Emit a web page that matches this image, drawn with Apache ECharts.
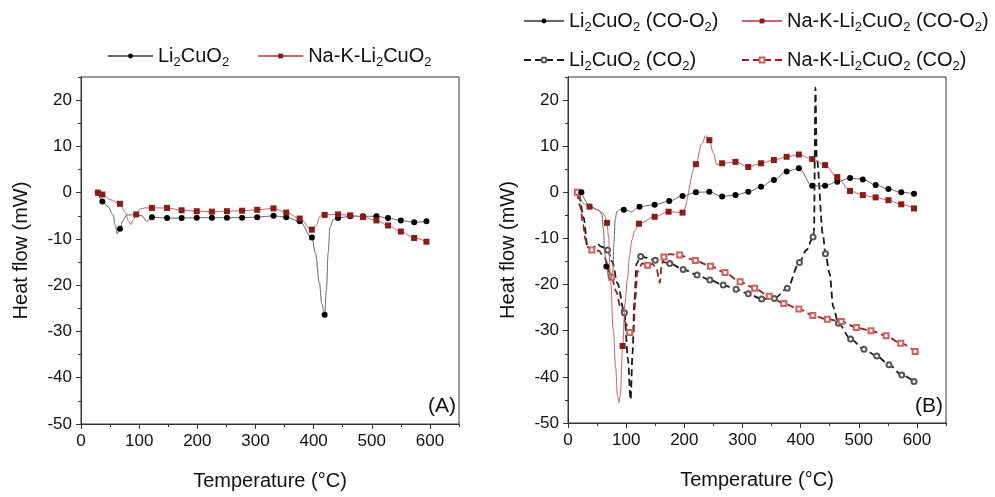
<!DOCTYPE html>
<html><head><meta charset="utf-8">
<script src="https://cdn.jsdelivr.net/npm/echarts@6/dist/echarts.min.js"></script>
<style>html,body{margin:0;padding:0;background:#fff}#c{width:995px;height:497px}</style>
</head><body><div id="c"></div>
<script>
// ---------- Panel A ----------
const aLiMarks = [[29,0],[36.7,-1.9],[67,-7.8],[122,-5.3],[148,-5.5],[173,-5.5],[199,-5.4],[225,-5.4],[251,-5.4],[277,-5.4],[303,-5.3],[331,-5.0],[353,-5.3],[376,-6.2],[397,-9.7],[419,-26.4],[442,-5.5],[463,-5.1],[485,-5.1],[508,-5.1],[528,-5.5],[550,-6.0],[573,-6.4],[594,-6.2]];
const aLiCurve = [[47,-3.1],[55,-4.8],[59,-7.0],[62,-8.9],[72,-6.0],[79,-4.8],[95,-4.8],[105,-5.0],[113,-6.2],[403,-13],[410,-19.5],[414,-24],[422,-21],[425,-13],[428,-7.5],[434,-5.8]];
const aNaMarks = [[29,0],[36.7,-0.4],[67,-2.4],[95,-4.7],[122,-3.3],[148,-3.3],[173,-3.8],[199,-4.0],[225,-4.1],[251,-4.0],[277,-3.9],[303,-3.7],[331,-3.4],[353,-4.3],[376,-5.6],[397,-8.0],[419,-4.8],[442,-4.7],[463,-4.9],[485,-5.3],[508,-6.0],[528,-7.1],[550,-8.4],[573,-9.8],[594,-10.6]];
const aNaCurve = [[50,-1.5],[76,-4.2],[82,-6.2],[86,-6.9],[90,-5.8],[102,-3.5],[110,-3.3],[405,-7.0],[410,-5.3],[414,-4.8]];

// ---------- Panel B ----------
const bLiOMarks = [[23,0],[66,-16.1],[96,-3.8],[123,-3.1],[149,-2.7],[174,-1.9],[197,-0.8],[220,0],[243,0.1],[265,-0.9],[288,-0.6],[310,0.1],[332,1.2],[354,2.7],[376,4.5],[397,5.2],[420,1.4],[442,1.4],[463,2.3],[485,3.1],[507,2.8],[529,1.6],[551,0.7],[573,0],[595,-0.3]];
const bLiOCurve = [[38,-3.0],[52,-3.8],[58,-4.6],[61,-8],[63,-13],[70,-18.6],[74,-18.9],[77,-17],[79,-11],[81,-6],[84,-4.2],[90,-3.7],[104,-4.0],[110,-4.3],[116,-3.6]];
const bNaOMarks = [[37,-3.1],[67,-6.6],[94,-33.3],[122,-6.8],[149,-5.3],[173,-4.2],[197,-4.4],[220,6.1],[243,11.3],[265,6.3],[288,6.6],[310,5.5],[332,6.3],[354,7.0],[376,7.7],[397,8.2],[420,7.2],[442,5.9],[463,3.3],[485,0.3],[507,-0.6],[529,-1.1],[551,-1.7],[573,-2.6],[595,-3.5]];
const bNaOCurve = [[17,0],[28,-2.5],[50,-3.8],[60,-4.5],[64,-5.3],[70,-10],[73,-19],[78,-30],[82,-38],[85,-44],[87.5,-45.6],[90,-44],[98,-24],[102,-19],[106,-13.5],[110,-10.3],[115,-8.2],[230,10.5],[237,12.3],[250,8.5],[256,6.0]];
const bLiCMarks = [[68,-12.5],[97,-26.1],[125,-13.9],[150,-14.7],[175,-15.4],[198,-16.7],[222,-17.9],[244,-19.0],[267,-20.1],[289,-21.0],[310,-22.0],[333,-23.1],[355,-23.0],[377,-20.8],[398,-15.2],[421.4,-9.7],[442.7,-13.3],[465,-28.4],[486,-31.8],[509,-34.0],[531,-35.5],[552,-37.4],[574,-39.6],[595,-41.0]];
const bLiCCurve = [[20,-0.5],[27,-5.5],[33,-11.5],[42,-12.3],[50,-11.2],[58,-11.8],[76,-15],[85,-19.7],[103,-36],[107.6,-44.9],[111,-35],[114,-24],[118,-15.4],[410,-12.5],[423,-8.5],[425.5,22.7],[427.7,7.5],[438.5,-9.3],[450,-17.6],[456,-24.8]];
const bNaCMarks = [[16,0],[41,-12.5],[75,-18.4],[106,-30.4],[137,-15.8],[165,-14.0],[192,-13.6],[219,-14.8],[245,-16.0],[270,-17.4],[296,-19.4],[321,-20.8],[346,-22.5],[371,-24.1],[397,-25.3],[421,-26.7],[446,-27.5],[470,-28.0],[496,-29.3],[521,-30.0],[547,-31.1],[572,-32.7],[597,-34.5]];
const bNaCCurve = [[21,-3.1],[26,-7],[30,-10.3],[35,-12],[53,-12.7],[62,-14],[83,-21.5],[90,-24.8],[100,-28.5],[112,-31],[116,-23],[119,-17.5],[124,-16],[128,-15.4],[145,-15.5],[152,-16.5],[158,-19.6],[161,-16],[175,-13.4]];

const xRange = [0, 650];
const yRange = [-50, 25];

const FF = 'Liberation Sans, Arial, sans-serif';
const AX = '#333';

function build(curve, marks) {
  const pts = curve.map(p => ({ value: p, symbol: 'none' })).concat(marks.map(p => ({ value: p })));
  pts.sort((a, b) => a.value[0] - b.value[0]);
  return pts;
}

function xAxes(g) {
  return [
    { gridIndex: g, type: 'value', position: 'bottom', min: xRange[0], max: xRange[1], interval: 100,
      axisLine: { show: true, onZero: false, lineStyle: { color: AX, width: 1 } },
      axisTick: { show: true, length: 5, lineStyle: { color: AX } },
      axisLabel: { showMaxLabel: false, margin: 9, fontSize: 17, color: '#111', fontFamily: FF },
      splitLine: { show: false },
      name: 'Temperature (°C)', nameLocation: 'middle', nameGap: 47,
      nameTextStyle: { fontSize: 20, color: '#111', fontFamily: FF } },
    { gridIndex: g, type: 'value', position: 'bottom', min: xRange[0], max: xRange[1], interval: 50,
      axisLine: { show: false, onZero: false }, axisTick: { show: true, length: 3, lineStyle: { color: AX } },
      axisLabel: { show: false }, splitLine: { show: false } }
  ];
}
function yAxes(g) {
  return [
    { gridIndex: g, type: 'value', position: 'left', min: yRange[0], max: yRange[1], interval: 10,
      axisLine: { show: true, onZero: false, lineStyle: { color: AX, width: 1 } },
      axisTick: { show: true, length: 5, lineStyle: { color: AX } },
      axisLabel: { showMaxLabel: false, margin: 9, fontSize: 17, color: '#111', fontFamily: FF },
      splitLine: { show: false },
      name: 'Heat flow (mW)', nameLocation: 'middle', nameGap: 50,
      nameTextStyle: { fontSize: 20, color: '#111', fontFamily: FF } },
    { gridIndex: g, type: 'value', position: 'left', min: yRange[0], max: yRange[1], interval: 5,
      axisLine: { show: false, onZero: false }, axisTick: { show: true, length: 3, lineStyle: { color: AX } },
      axisLabel: { show: false }, splitLine: { show: false } }
  ];
}

function solid(name, data, ax, sym, lineColor, markColor) {
  return { name, type: 'line', xAxisIndex: ax, yAxisIndex: ax, data, smooth: 0.35, smoothMonotone: 'x',
    symbol: sym, symbolSize: 6, showSymbol: true, itemStyle: { color: markColor },
    lineStyle: { color: lineColor, width: 1 }, animation: false, z: 3 };
}
function dashed(name, data, ax, sym, lineColor, markColor) {
  return { name, type: 'line', xAxisIndex: ax, yAxisIndex: ax, data, smooth: 0.3, smoothMonotone: 'x',
    symbol: sym, symbolSize: 5, showSymbol: true, itemStyle: { color: markColor, borderColor: markColor, borderWidth: 0.8 },
    lineStyle: { color: lineColor, width: 1.8, type: [7, 4] }, animation: false, z: 2 };
}

const sub = n => n.replace(/2/g, '{s|2}');
const legText = { fontSize: 20, color: '#111', fontFamily: FF, lineHeight: 26,
  rich: { s: { fontSize: 13, color: '#111', fontFamily: FF, lineHeight: 14, verticalAlign: 'bottom' } } };

const option = {
  backgroundColor: '#fff',
  animation: false,
  grid: [
    { left: 81, right: 536, top: 77, bottom: 73, show: true, borderColor: AX, borderWidth: 1 },
    { left: 568, right: 49, top: 77, bottom: 74, show: true, borderColor: AX, borderWidth: 1 }
  ],
  xAxis: xAxes(0).concat(xAxes(1)),
  yAxis: yAxes(0).concat(yAxes(1)),
  legend: [
    { data: ['Li2CuO2', 'Na-K-Li2CuO2'], left: 107, top: 43, padding: 0, itemWidth: 45, itemHeight: 6, itemGap: 28,
      selectedMode: false, formatter: sub, textStyle: legText },
    { data: ['Li2CuO2 (CO-O2)', 'Li2CuO2 (CO2)'], orient: 'vertical', left: 523, top: 8, padding: 0, itemWidth: 40, itemHeight: 6, itemGap: 13,
      selectedMode: false, formatter: sub, textStyle: legText },
    { data: ['Na-K-Li2CuO2 (CO-O2)', 'Na-K-Li2CuO2 (CO2)'], orient: 'vertical', left: 741, top: 8, padding: 0, itemWidth: 40, itemHeight: 6, itemGap: 13,
      selectedMode: false, formatter: sub, textStyle: legText }
  ],
  graphic: [
    { type: 'text', left: 428, top: 396, style: { text: '(A)', font: '21px ' + FF, fill: '#111' } },
    { type: 'text', left: 915, top: 396, style: { text: '(B)', font: '21px ' + FF, fill: '#111' } }
  ],
  series: [
    solid('Li2CuO2', build(aLiCurve, aLiMarks), 0, 'circle', '#666', '#000'),
    solid('Na-K-Li2CuO2', build(aNaCurve, aNaMarks), 0, 'rect', '#c86464', '#8b1a1a'),
    solid('Li2CuO2 (CO-O2)', build(bLiOCurve, bLiOMarks), 2, 'circle', '#666', '#000'),
    solid('Na-K-Li2CuO2 (CO-O2)', build(bNaOCurve, bNaOMarks), 2, 'rect', '#c86464', '#8b1a1a'),
    dashed('Li2CuO2 (CO2)', build(bLiCCurve, bLiCMarks), 2, 'emptyCircle', '#1a1a1a', '#555'),
    dashed('Na-K-Li2CuO2 (CO2)', build(bNaCCurve, bNaCMarks), 2, 'emptyRect', '#a01c1c', '#d06060')
  ]
};
const chart = echarts.init(document.getElementById('c'), null, { renderer: 'canvas' });
chart.setOption(option);
</script></body></html>
